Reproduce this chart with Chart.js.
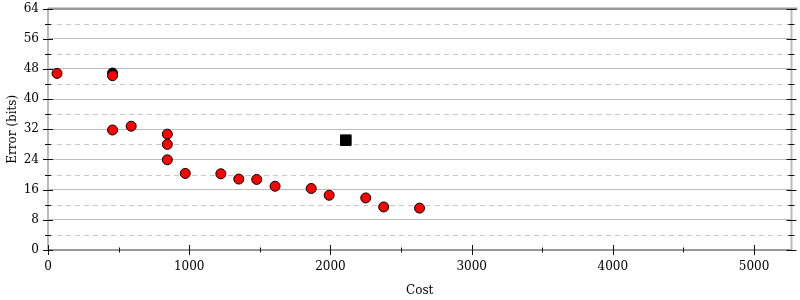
<!DOCTYPE html>
<html>
<head>
<meta charset="utf-8">
<script src="https://cdn.jsdelivr.net/npm/chart.js@4/dist/chart.umd.min.js"></script>
<style>
  body { margin: 0; background: #fff; }
  #wrap { width: 800px; height: 300px; }
</style>
</head>
<body>
<div id="wrap"><canvas id="grafica" width="800" height="300"></canvas></div>
<script>
  // datos
  const costeRojo = [64, 457, 457, 589, 845, 845, 845, 972, 1224, 1351, 1478, 1608, 1864, 1991, 2250, 2377, 2631];
  const errorRojo = [46.8, 46.2, 31.8, 32.8, 30.7, 28.0, 23.9, 20.3, 20.2, 18.8, 18.7, 16.9, 16.3, 14.5, 13.8, 11.4, 11.1];
  const costeNegro = [457];
  const errorNegro = [46.9];
  const costeCuadro = [2109];
  const errorCuadro = [29.1];

  const xTicks = [0, 1000, 2000, 3000, 4000, 5000];
  const yTicks = [0, 4, 8, 12, 16, 20, 24, 28, 32, 36, 40, 44, 48, 52, 56, 60, 64];

  const yMin = 0, yMax = 64, yEtiqueta = 8;
  const xMin = 0, xMax = 5265, xPaso = 1000, xMenor = 500;

  const fuente = { family: "'DejaVu Serif', serif", size: 12 };

  const puntos = (xs, ys) => xs.map((x, i) => ({ x: x, y: ys[i] }));

  // lineas discontinuas, bordes y marcas de los ejes
  const ejesPlugin = {
    id: 'ejes',
    beforeDatasetsDraw(chart) {
      const { ctx, chartArea: a, scales: { y } } = chart;
      ctx.save();
      ctx.strokeStyle = '#c8c8c8';
      ctx.lineWidth = 1;
      ctx.setLineDash([5, 4]);
      yTicks.filter(v => v % yEtiqueta !== 0).forEach(v => {
        const py = Math.round(y.getPixelForValue(v)) + 0.5;
        ctx.beginPath();
        ctx.moveTo(a.left, py);
        ctx.lineTo(a.right, py);
        ctx.stroke();
      });
      ctx.restore();
    },
    afterDraw(chart) {
      const { ctx, chartArea: a, scales: { x, y } } = chart;
      ctx.save();
      // borde derecho
      ctx.strokeStyle = '#bbb';
      ctx.lineWidth = 2;
      ctx.beginPath();
      ctx.moveTo(a.right, a.top);
      ctx.lineTo(a.right, a.bottom);
      ctx.stroke();
      // borde superior
      ctx.strokeStyle = '#999';
      ctx.beginPath();
      ctx.moveTo(a.left, a.top);
      ctx.lineTo(a.right + 6, a.top);
      ctx.stroke();

      ctx.lineWidth = 1;
      ctx.strokeStyle = '#111';
      yTicks.forEach(v => {
        const py = Math.round(y.getPixelForValue(v)) + 0.5;
        const l = v % yEtiqueta === 0 ? 5 : 3;
        ctx.beginPath();
        ctx.moveTo(a.left - l, py);
        ctx.lineTo(a.left + l, py);
        ctx.moveTo(a.right - l, py);
        ctx.lineTo(a.right + l, py);
        ctx.stroke();
      });
      for (let v = xMin; v <= xMax; v += xMenor) {
        const px = Math.round(x.getPixelForValue(v)) + 0.5;
        const l = v % xPaso === 0 ? 5 : 2.5;
        ctx.beginPath();
        ctx.moveTo(px, a.bottom - l);
        ctx.lineTo(px, a.bottom + l);
        ctx.stroke();
      }
      ctx.restore();
    }
  };

  const config = {
    type: 'scatter',
    data: {
      datasets: [
        {
          label: 'rojo',
          data: puntos(costeRojo, errorRojo),
          backgroundColor: '#ff0000',
          borderColor: '#000',
          borderWidth: 1,
          pointRadius: 5,
          pointHoverRadius: 5
        },
        {
          label: 'negro',
          data: puntos(costeNegro, errorNegro),
          backgroundColor: '#000',
          borderColor: '#000',
          borderWidth: 1,
          pointRadius: 5,
          pointHoverRadius: 5
        },
        {
          label: 'cuadro',
          data: puntos(costeCuadro, errorCuadro),
          backgroundColor: '#000',
          borderColor: '#000',
          borderWidth: 1,
          pointStyle: 'rect',
          pointRadius: 7.5,
          pointHoverRadius: 7.5
        }
      ]
    },
    options: {
      responsive: false,
      animation: false,
      layout: { padding: { top: 7, right: 6, left: 0, bottom: 0 } },
      plugins: {
        legend: { display: false },
        tooltip: { enabled: false }
      },
      scales: {
        x: {
          type: 'linear',
          min: xMin,
          max: xMax,
          afterBuildTicks: (s) => { s.ticks = xTicks.map(v => ({ value: v })); },
          afterFit: (s) => { s.height = 50; s.paddingLeft = 0; s.paddingRight = 0; },
          border: { color: '#999', width: 2 },
          grid: { display: false, drawTicks: false },
          ticks: {
            padding: 10,
            color: '#000',
            font: fuente,
            maxRotation: 0,
            autoSkip: false,
            callback: (v) => String(v)
          },
          title: {
            display: true,
            text: 'Cost',
            color: '#000',
            font: fuente,
            padding: { top: 0, bottom: 2 }
          }
        },
        y: {
          type: 'linear',
          min: yMin,
          max: yMax,
          afterBuildTicks: (s) => { s.ticks = yTicks.map(v => ({ value: v })); },
          afterFit: (s) => { s.width = 48; s.paddingTop = 0; s.paddingBottom = 0; },
          border: { color: '#bbb', width: 2 },
          grid: {
            drawTicks: false,
            color: (c) => {
              if (c.tick.value === yMax) return '#999';
              return c.tick.value % yEtiqueta === 0 ? '#bbb' : 'rgba(0,0,0,0)';
            },
            lineWidth: (c) => (c.tick.value === yMax ? 2 : 1)
          },
          ticks: {
            autoSkip: false,
            padding: 9,
            color: '#000',
            font: fuente,
            callback: (v) => (v % yEtiqueta === 0 ? String(v) : '')
          },
          title: {
            display: true,
            text: 'Error (bits)',
            color: '#000',
            font: fuente,
            padding: { top: 6, bottom: 0 }
          }
        }
      }
    },
    plugins: [ejesPlugin]
  };

  window.addEventListener('DOMContentLoaded', () => {
    const canvas = document.getElementById('grafica');
    if (canvas) new Chart(canvas, config);
  });
</script>
</body>
</html>
